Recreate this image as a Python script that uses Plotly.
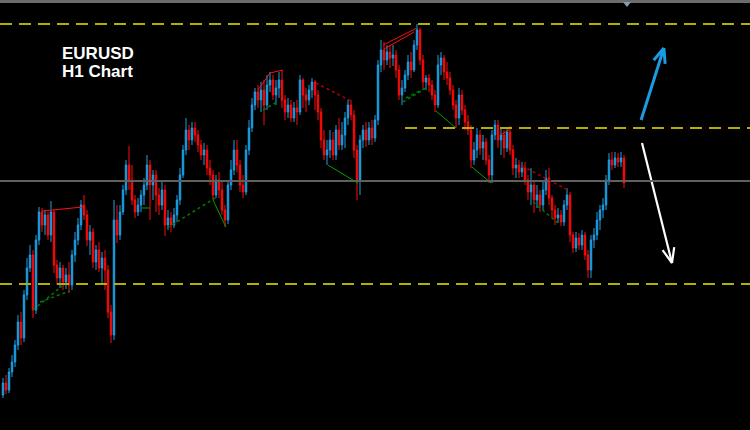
import math
import plotly.graph_objects as go

# ---------------- data (EURUSD H1, prices) ----------------
bar_index = list(range(208))

open_ = [1.0105,1.0117,1.0110,1.0128,1.0138,1.0155,1.0178,1.0162,1.0205,1.0232,
         1.0245,1.0190,1.0260,1.0288,1.0275,1.0285,1.0265,1.0288,1.0235,1.0222,
         1.0232,1.0218,1.0225,1.0215,1.0245,1.0260,1.0275,1.0295,1.0285,1.0260,
         1.0268,1.0238,1.0250,1.0232,1.0242,1.0230,1.0188,1.0165,1.0280,1.0265,
         1.0288,1.0310,1.0335,1.0320,1.0300,1.0288,1.0295,1.0305,1.0315,1.0335,
         1.0315,1.0325,1.0305,1.0295,1.0310,1.0275,1.0282,1.0275,1.0285,1.0300,
         1.0325,1.0350,1.0370,1.0360,1.0372,1.0365,1.0355,1.0345,1.0350,1.0332,
         1.0325,1.0305,1.0320,1.0310,1.0290,1.0280,1.0315,1.0330,1.0350,1.0335,
         1.0315,1.0308,1.0350,1.0372,1.0395,1.0408,1.0400,1.0410,1.0395,1.0415,
         1.0420,1.0405,1.0412,1.0420,1.0400,1.0388,1.0395,1.0382,1.0392,1.0388,
         1.0420,1.0405,1.0400,1.0410,1.0418,1.0405,1.0388,1.0360,1.0345,1.0350,
         1.0360,1.0345,1.0370,1.0355,1.0365,1.0382,1.0395,1.0385,1.0350,1.0320,
         1.0360,1.0370,1.0360,1.0372,1.0362,1.0380,1.0435,1.0450,1.0440,1.0448,
         1.0442,1.0445,1.0430,1.0405,1.0412,1.0425,1.0438,1.0430,1.0455,1.0470,
         1.0440,1.0418,1.0422,1.0415,1.0405,1.0395,1.0435,1.0442,1.0428,1.0422,
         1.0410,1.0395,1.0382,1.0405,1.0390,1.0378,1.0370,1.0340,1.0350,1.0365,
         1.0352,1.0358,1.0340,1.0325,1.0365,1.0375,1.0360,1.0365,1.0352,1.0368,
         1.0350,1.0332,1.0335,1.0328,1.0332,1.0320,1.0308,1.0315,1.0300,1.0305,
         1.0295,1.0310,1.0322,1.0302,1.0290,1.0282,1.0285,1.0278,1.0295,1.0305,
         1.0265,1.0252,1.0262,1.0255,1.0265,1.0245,1.0230,1.0260,1.0265,1.0280,
         1.0290,1.0295,1.0320,1.0340,1.0335,1.0342,1.0338,1.0342]

close = [1.0117,1.0110,1.0128,1.0138,1.0155,1.0178,1.0162,1.0205,1.0232,1.0245,
         1.0190,1.0260,1.0288,1.0275,1.0285,1.0265,1.0288,1.0235,1.0222,1.0232,
         1.0218,1.0225,1.0215,1.0245,1.0260,1.0275,1.0295,1.0285,1.0260,1.0268,
         1.0238,1.0250,1.0232,1.0242,1.0230,1.0188,1.0165,1.0280,1.0265,1.0288,
         1.0310,1.0335,1.0320,1.0300,1.0288,1.0295,1.0305,1.0315,1.0335,1.0315,
         1.0325,1.0305,1.0295,1.0310,1.0275,1.0282,1.0275,1.0285,1.0300,1.0325,
         1.0350,1.0370,1.0360,1.0372,1.0365,1.0355,1.0345,1.0350,1.0332,1.0325,
         1.0305,1.0320,1.0310,1.0290,1.0280,1.0315,1.0330,1.0350,1.0335,1.0315,
         1.0308,1.0350,1.0372,1.0395,1.0408,1.0400,1.0410,1.0395,1.0415,1.0420,
         1.0405,1.0412,1.0420,1.0400,1.0388,1.0395,1.0382,1.0392,1.0388,1.0420,
         1.0405,1.0400,1.0410,1.0418,1.0405,1.0388,1.0360,1.0345,1.0350,1.0360,
         1.0345,1.0370,1.0355,1.0365,1.0382,1.0395,1.0385,1.0350,1.0320,1.0360,
         1.0370,1.0360,1.0372,1.0362,1.0380,1.0435,1.0450,1.0440,1.0448,1.0442,
         1.0445,1.0430,1.0405,1.0412,1.0425,1.0438,1.0430,1.0455,1.0470,1.0440,
         1.0418,1.0422,1.0415,1.0405,1.0395,1.0435,1.0442,1.0428,1.0422,1.0410,
         1.0395,1.0382,1.0405,1.0390,1.0378,1.0370,1.0340,1.0350,1.0365,1.0352,
         1.0358,1.0340,1.0325,1.0365,1.0375,1.0360,1.0365,1.0352,1.0368,1.0350,
         1.0332,1.0335,1.0328,1.0332,1.0320,1.0308,1.0315,1.0300,1.0305,1.0295,
         1.0310,1.0322,1.0302,1.0290,1.0282,1.0285,1.0278,1.0295,1.0305,1.0265,
         1.0252,1.0262,1.0255,1.0265,1.0245,1.0230,1.0260,1.0265,1.0280,1.0290,
         1.0295,1.0320,1.0340,1.0335,1.0342,1.0338,1.0342,1.0317]

high = [1.0122,1.0125,1.0132,1.0145,1.0160,1.0185,1.0188,1.0210,1.0242,1.0255,
        1.0250,1.0265,1.0293,1.0292,1.0290,1.0288,1.0299,1.0290,1.0240,1.0238,
        1.0235,1.0232,1.0238,1.0250,1.0268,1.0282,1.0300,1.0305,1.0290,1.0275,
        1.0272,1.0255,1.0258,1.0248,1.0250,1.0235,1.0195,1.0300,1.0295,1.0295,
        1.0315,1.0340,1.0354,1.0335,1.0305,1.0302,1.0310,1.0322,1.0345,1.0340,
        1.0330,1.0330,1.0312,1.0318,1.0315,1.0290,1.0288,1.0292,1.0305,1.0332,
        1.0355,1.0382,1.0375,1.0378,1.0378,1.0370,1.0360,1.0357,1.0355,1.0340,
        1.0330,1.0325,1.0328,1.0320,1.0295,1.0320,1.0340,1.0360,1.0360,1.0340,
        1.0325,1.0355,1.0380,1.0402,1.0412,1.0415,1.0418,1.0420,1.0425,1.0428,
        1.0425,1.0420,1.0428,1.0430,1.0405,1.0402,1.0400,1.0398,1.0400,1.0425,
        1.0422,1.0412,1.0415,1.0422,1.0420,1.0410,1.0392,1.0370,1.0360,1.0370,
        1.0368,1.0375,1.0382,1.0378,1.0388,1.0400,1.0400,1.0390,1.0355,1.0365,
        1.0375,1.0378,1.0378,1.0380,1.0385,1.0440,1.0460,1.0458,1.0455,1.0455,
        1.0455,1.0450,1.0435,1.0420,1.0430,1.0445,1.0448,1.0460,1.0476,1.0472,
        1.0445,1.0425,1.0426,1.0420,1.0410,1.0445,1.0448,1.0445,1.0438,1.0428,
        1.0415,1.0400,1.0412,1.0410,1.0395,1.0385,1.0375,1.0358,1.0372,1.0370,
        1.0365,1.0362,1.0345,1.0370,1.0380,1.0380,1.0372,1.0370,1.0372,1.0374,
        1.0355,1.0342,1.0340,1.0338,1.0338,1.0325,1.0332,1.0320,1.0315,1.0310,
        1.0320,1.0330,1.0332,1.0305,1.0295,1.0292,1.0290,1.0300,1.0312,1.0308,
        1.0268,1.0268,1.0267,1.0270,1.0268,1.0250,1.0265,1.0272,1.0288,1.0295,
        1.0302,1.0325,1.0347,1.0348,1.0348,1.0347,1.0348,1.0345]

low = [1.0102,1.0106,1.0107,1.0123,1.0133,1.0150,1.0155,1.0158,1.0200,1.0228,
       1.0182,1.0186,1.0255,1.0268,1.0265,1.0260,1.0258,1.0227,1.0215,1.0212,
       1.0210,1.0211,1.0207,1.0210,1.0238,1.0255,1.0270,1.0280,1.0254,1.0245,
       1.0232,1.0230,1.0228,1.0215,1.0210,1.0182,1.0157,1.0160,1.0257,1.0260,
       1.0285,1.0305,1.0310,1.0295,1.0282,1.0284,1.0288,1.0295,1.0310,1.0280,
       1.0300,1.0288,1.0285,1.0290,1.0264,1.0270,1.0268,1.0272,1.0278,1.0295,
       1.0322,1.0345,1.0350,1.0355,1.0358,1.0348,1.0340,1.0335,1.0325,1.0315,
       1.0300,1.0302,1.0302,1.0285,1.0273,1.0276,1.0310,1.0325,1.0328,1.0308,
       1.0302,1.0305,1.0345,1.0368,1.0390,1.0392,1.0388,1.0375,1.0390,1.0408,
       1.0400,1.0395,1.0402,1.0392,1.0380,1.0382,1.0378,1.0378,1.0375,1.0385,
       1.0392,1.0388,1.0395,1.0402,1.0390,1.0380,1.0352,1.0340,1.0335,1.0342,
       1.0340,1.0340,1.0350,1.0350,1.0352,1.0375,1.0380,1.0342,1.0300,1.0305,
       1.0352,1.0353,1.0355,1.0355,1.0358,1.0375,1.0428,1.0430,1.0435,1.0432,
       1.0434,1.0422,1.0400,1.0395,1.0408,1.0420,1.0422,1.0428,1.0450,1.0435,
       1.0412,1.0410,1.0408,1.0400,1.0388,1.0392,1.0425,1.0420,1.0415,1.0405,
       1.0390,1.0372,1.0375,1.0385,1.0370,1.0365,1.0332,1.0335,1.0342,1.0345,
       1.0340,1.0335,1.0317,1.0317,1.0360,1.0352,1.0345,1.0342,1.0348,1.0345,
       1.0325,1.0322,1.0322,1.0323,1.0315,1.0300,1.0295,1.0287,1.0292,1.0288,
       1.0290,1.0305,1.0295,1.0282,1.0275,1.0277,1.0274,1.0274,1.0290,1.0258,
       1.0247,1.0248,1.0250,1.0250,1.0240,1.0222,1.0222,1.0252,1.0260,1.0270,
       1.0282,1.0290,1.0315,1.0330,1.0332,1.0333,1.0333,1.0312]

# horizontal levels (price)
level_top = 1.0476
level_mid = 1.0372
level_mid_start = 134
level_bottom = 1.0216
level_price = 1.0319

# trendlines: (bar0, price0, bar1, price1)
red_solid = [(13.0, 1.0289, 26.7, 1.0293),
             (85.0, 1.0410, 89.0, 1.0427),
             (89.0, 1.0427, 93.3, 1.0430),
             (126.7, 1.0455, 138.0, 1.0472),
             (127.0, 1.0451, 137.0, 1.0468),
             (165.7, 1.0365, 168.7, 1.0370)]
red_dotted = [(104.3, 1.0417, 116.0, 1.0399),
              (173.0, 1.0334, 188.3, 1.0310)]
green_solid = [(70.0, 1.0300, 74.3, 1.0273),
               (108.3, 1.0335, 118.3, 1.0317),
               (144.3, 1.0389, 151.0, 1.0372),
               (156.3, 1.0333, 162.7, 1.0317),
               (46.3, 1.0292, 49.0, 1.0292)]
green_dotted = [(10.0, 1.0190, 19.7, 1.0214),
                (12.3, 1.0198, 22.3, 1.0209),
                (54.7, 1.0272, 70.7, 1.0302),
                (86.7, 1.0390, 91.3, 1.0398),
                (133.3, 1.0398, 141.7, 1.0413),
                (134.3, 1.0402, 140.7, 1.0412),
                (176.7, 1.0298, 185.0, 1.0277)]

# scenario arrows: (bar_tail, price_tail, bar_tip, price_tip)
arrow_up = (212.7, 1.0380, 220.3, 1.0452)
arrow_down = (213.0, 1.0357, 223.0, 1.0237)

title_lines = ["EURUSD", "H1 Chart"]

# ---------------- figure ----------------
W, H = 750, 430
X_RANGE = [-1, 249]
Y_RANGE = [1.0070, 1.0500]
BULL = "#1AA0E6"
BEAR = "#FF0A0A"

fig = go.Figure()
fig.add_trace(go.Candlestick(
    x=bar_index, open=open_, high=high, low=low, close=close,
    increasing=dict(line=dict(color=BULL, width=1), fillcolor=BULL),
    decreasing=dict(line=dict(color=BEAR, width=1), fillcolor=BEAR),
    whiskerwidth=0, hoverinfo="skip", showlegend=False))

shapes = []
dash_style = "12px,7px"
shapes.append(dict(type="line", xref="paper", x0=0, x1=1, y0=level_top, y1=level_top,
                   line=dict(color="#B4AE00", width=2, dash=dash_style)))
shapes.append(dict(type="line", xref="x", x0=level_mid_start, x1=X_RANGE[1],
                   y0=level_mid, y1=level_mid,
                   line=dict(color="#B4AE00", width=2, dash=dash_style)))
shapes.append(dict(type="line", xref="paper", x0=0, x1=1, y0=level_bottom, y1=level_bottom,
                   line=dict(color="#B4AE00", width=2, dash=dash_style)))
shapes.append(dict(type="line", xref="paper", x0=0, x1=1, y0=level_price, y1=level_price,
                   line=dict(color="#606060", width=2)))

for (a, p, b, q) in red_solid:
    shapes.append(dict(type="line", x0=a, x1=b, y0=p, y1=q, line=dict(color="#FF1010", width=1)))
for (a, p, b, q) in red_dotted:
    shapes.append(dict(type="line", x0=a, x1=b, y0=p, y1=q,
                       line=dict(color="#B00000", width=1.5, dash="3px,3px")))
for (a, p, b, q) in green_solid:
    shapes.append(dict(type="line", x0=a, x1=b, y0=p, y1=q, line=dict(color="#00A000", width=1)))
for (a, p, b, q) in green_dotted:
    shapes.append(dict(type="line", x0=a, x1=b, y0=p, y1=q,
                       line=dict(color="#007A00", width=1.5, dash="3px,3px")))

# frame line at the top and the chart-shift marker
shapes.append(dict(type="rect", xref="paper", yref="paper", x0=0, x1=1,
                   y0=1 - 3 / H, y1=1, line=dict(width=0), fillcolor="#6C6C6C"))
shapes.append(dict(type="path", xref="paper", yref="paper",
                   path=f"M {623/W},{1-2/H} L {631/W},{1-2/H} L {627/W},{1-7/H} Z",
                   fillcolor="#8A9BB0", line=dict(width=0)))
fig.update_layout(shapes=shapes)


def to_px(bar, price):
    px = (bar - X_RANGE[0]) / (X_RANGE[1] - X_RANGE[0]) * W
    py = (Y_RANGE[1] - price) / (Y_RANGE[1] - Y_RANGE[0]) * H
    return px, py


def to_data(px, py):
    bar = X_RANGE[0] + px / W * (X_RANGE[1] - X_RANGE[0])
    price = Y_RANGE[1] - py / H * (Y_RANGE[1] - Y_RANGE[0])
    return bar, price


def arrow_trace(spec, color, width, head_len=16, head_ang=22):
    a, p, b, q = spec
    tx, ty = to_px(a, p)
    hx, hy = to_px(b, q)
    ang = math.atan2(ty - hy, tx - hx)
    xs, ys = [a, b, None], [p, q, None]
    for s in (-1, 1):
        t = ang + s * math.radians(head_ang)
        bx, by = to_data(hx + head_len * math.cos(t), hy + head_len * math.sin(t))
        xs += [b, bx, None]
        ys += [q, by, None]
    return go.Scatter(x=xs, y=ys, mode="lines", line=dict(color=color, width=width),
                      hoverinfo="skip", showlegend=False)


fig.add_trace(arrow_trace(arrow_up, "#1C9BE2", 3))
fig.add_trace(arrow_trace(arrow_down, "#FFFFFF", 2.2))

for i, txt in enumerate(title_lines):
    fig.add_annotation(text=f"<b>{txt}</b>", xref="paper", yref="paper",
                       x=60 / W, y=1 - (53.5 + 17.5 * i) / H, xanchor="left", yanchor="middle",
                       showarrow=False, font=dict(family="Liberation Sans, Arial", size=17, color="#FFFFFF"))

fig.update_layout(
    width=W, height=H, margin=dict(l=0, r=0, t=0, b=0),
    paper_bgcolor="#000000", plot_bgcolor="#000000", showlegend=False,
    hovermode=False,
    xaxis=dict(visible=False, range=X_RANGE, rangeslider=dict(visible=False), fixedrange=True),
    yaxis=dict(visible=False, range=Y_RANGE, fixedrange=True),
)

fig.write_html("out.html", config={"displayModeBar": False, "staticPlot": True},
               post_script="document.body.style.margin='0';document.body.style.background='#000';")
